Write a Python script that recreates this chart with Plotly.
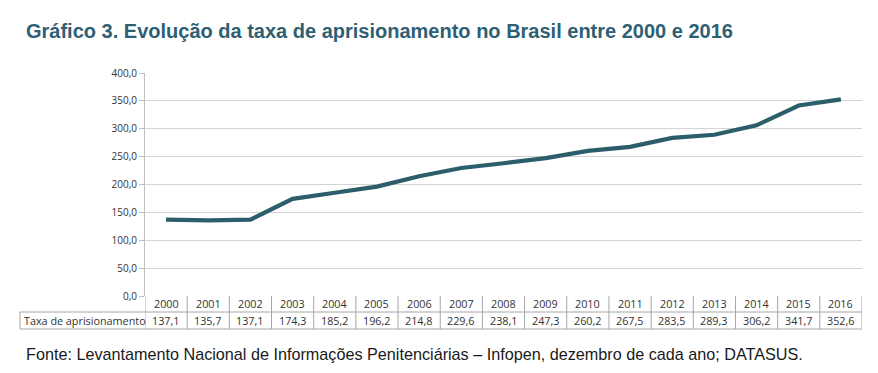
import plotly.graph_objects as go

years = ["2000", "2001", "2002", "2003", "2004", "2005", "2006", "2007", "2008",
         "2009", "2010", "2011", "2012", "2013", "2014", "2015", "2016"]
taxa = [137.1, 135.7, 137.1, 174.3, 185.2, 196.2, 214.8, 229.6, 238.1,
        247.3, 260.2, 267.5, 283.5, 289.3, 306.2, 341.7, 352.6]
series_name = "Taxa de aprisionamento"
y_ticks = [0, 50, 100, 150, 200, 250, 300, 350, 400]

# page body has an 8px margin; work in reference pixel coords and offset
OFF = 8
W, H = 878 - OFF, 373 - OFF
L, R, T, B = 145, 862, 73, 296


def px(x):
    return (x - L) / (R - L)


def py(y):
    return (B - y) / (B - T)


def fmt(v):
    return f"{v:.1f}".replace(".", ",")


xs = list(range(len(years)))

fig = go.Figure()
fig.add_trace(go.Scatter(
    x=xs, y=taxa, mode="lines",
    line=dict(color="#2B5E6A", width=4.2),
    showlegend=False, hoverinfo="skip",
))

grid_col = "#D4D4D4"
border_col = "#A6A6A6"
font_tab = "Open Sans"
txt_col = "#333333"

shapes = []
row_mid, row_bot = 312, 329
shapes.append(dict(type="line", xref="paper", yref="paper", x0=px(20), x1=1,
                   y0=py(row_mid), y1=py(row_mid), line=dict(color=border_col, width=1)))
shapes.append(dict(type="line", xref="paper", yref="paper", x0=px(20), x1=1,
                   y0=py(row_bot), y1=py(row_bot), line=dict(color=border_col, width=1)))
shapes.append(dict(type="line", xref="paper", yref="paper", x0=px(20), x1=px(20),
                   y0=py(row_mid), y1=py(row_bot), line=dict(color=border_col, width=1)))
for i in range(len(years) + 1):
    shapes.append(dict(type="line", xref="x", yref="paper", x0=i - 0.5, x1=i - 0.5,
                       y0=py(B), y1=py(row_bot), line=dict(color=border_col, width=1)))

annotations = []
tab_font = dict(family=font_tab, size=10.8, color=txt_col)
for i, (yr, v) in enumerate(zip(years, taxa)):
    annotations.append(dict(x=i, xref="x", y=py(303.5), yref="paper", text=yr,
                            showarrow=False, font=tab_font,
                            xanchor="center", yanchor="middle"))
    annotations.append(dict(x=i, xref="x", y=py(320.5), yref="paper", text=fmt(v),
                            showarrow=False, font=tab_font,
                            xanchor="center", yanchor="middle"))
annotations.append(dict(x=px(22), xref="paper", y=py(320.5), yref="paper", text=series_name,
                        showarrow=False, font=tab_font,
                        xanchor="left", yanchor="middle"))
annotations.append(dict(x=px(24), xref="paper", y=py(31), yref="paper",
                        text="<b>Gráfico 3. Evolução da taxa de aprisionamento no Brasil entre 2000 e 2016</b>",
                        showarrow=False, font=dict(family="Liberation Sans", size=20, color="#2F5F74"),
                        xanchor="left", yanchor="middle"))
annotations.append(dict(x=px(24), xref="paper", y=py(354), yref="paper",
                        text="Fonte: Levantamento Nacional de Informações Penitenciárias – Infopen, dezembro de cada ano; DATASUS.",
                        showarrow=False, font=dict(family="Liberation Sans", size=16.2, color="#1A1A1A"),
                        xanchor="left", yanchor="middle"))

fig.update_layout(
    width=W, height=H,
    margin=dict(l=L - OFF, r=878 - R, t=T - OFF, b=373 - B),
    paper_bgcolor="white", plot_bgcolor="white",
    separators=",.",
    shapes=shapes, annotations=annotations,
    xaxis=dict(range=[-0.5, len(years) - 0.5], showgrid=False, zeroline=False,
               showticklabels=False, showline=False, ticks=""),
    yaxis=dict(range=[0, 400], tickvals=y_ticks, tickformat=".1f",
               showgrid=True, gridcolor=grid_col, gridwidth=1, zeroline=False,
               showline=True, linecolor="#BFBFBF", linewidth=1,
               ticks="outside", ticklen=5, tickcolor="#BFBFBF",
               tickfont=dict(family=font_tab, size=10, color=txt_col)),
)

fig.write_html("out.html")
